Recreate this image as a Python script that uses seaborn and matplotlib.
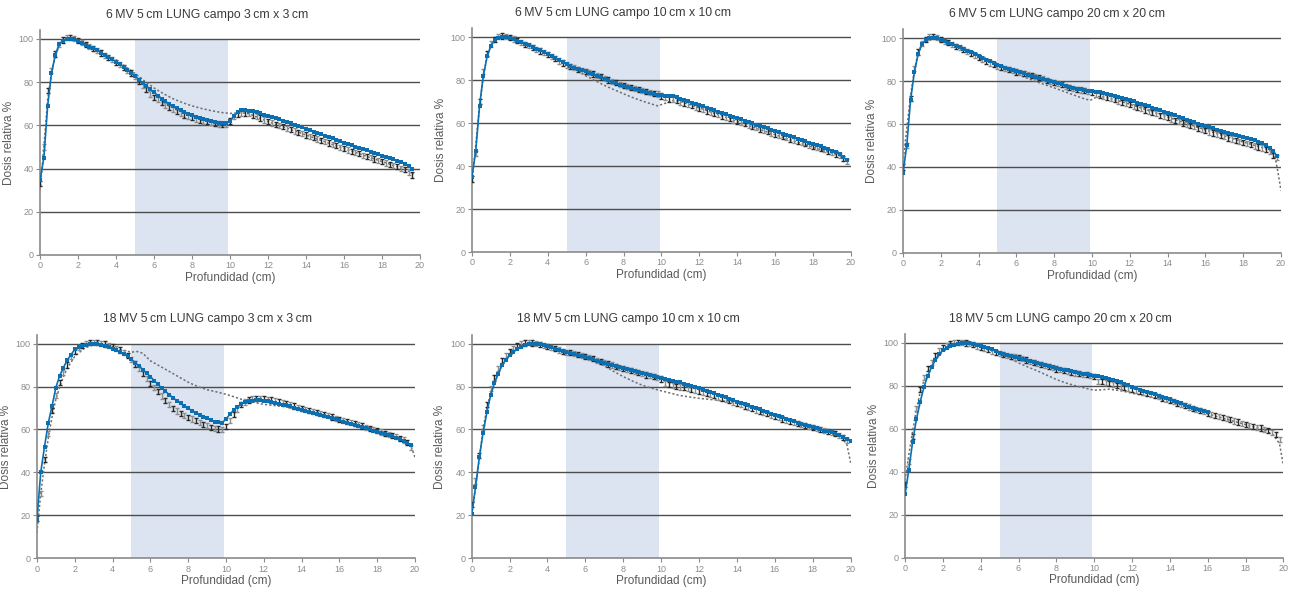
import numpy as np
import matplotlib
matplotlib.use("Agg")
import matplotlib.pyplot as plt
import seaborn as sns

NA = float("nan")

# depth grid (cm) shared by calculated (blue) and measured (error bar) series
depth = [round(0.2 * k, 1) for k in range(101)]

titles = [
    "6\u2009MV 5\u2009cm LUNG campo 3\u2009cm x 3\u2009cm",
    "6\u2009MV 5\u2009cm LUNG campo 10\u2009cm x 10\u2009cm",
    "6\u2009MV 5\u2009cm LUNG campo 20\u2009cm x 20\u2009cm",
    "18\u2009MV 5\u2009cm LUNG campo 3\u2009cm x 3\u2009cm",
    "18\u2009MV 5\u2009cm LUNG campo 10\u2009cm x 10\u2009cm",
    "18\u2009MV 5\u2009cm LUNG campo 20\u2009cm x 20\u2009cm",
]
x_ticks = [0, 2, 4, 6, 8, 10, 12, 14, 16, 18, 20]
y_ticks = [0, 20, 40, 60, 80, 100]
lung_start, lung_end = 5.0, 9.9
MEAS_ERR = 1.2

# ---------------- 6 MV 3x3 ----------------
calc_6_3 = [34.5, 45, 69, 84, 92.5, 97.5, 99.2, 99.8, 100, 99.8,
            98.8, 98, 97.2, 96.4, 95.6, 94.8, 93.7, 92.7, 91.7, 90.6,
            89.5, 88.3, 87.1, 85.8, 84.3, 82.8, 81.2, 79.6, 78.2, 76.7,
            75.3, 73.8, 72.4, 71.1, 69.9, 68.8, 67.8, 66.9, 66.1, 65.3,
            64.6, 64, 63.4, 62.9, 62.4, 62, 61.6, 61.3, 61.1, 61.1,
            62, 64.2, 66, 66.9, 67, 66.8, 66.4, 66, 65.5, 65,
            64.5, 63.9, 63.3, 62.7, 62.1, 61.5, 60.9, 60.2, 59.6, 59,
            58.3, 57.7, 57.1, 56.5, 55.8, 55.2, 54.6, 54, 53.3, 52.7,
            52, 51.4, 50.8, 50.2, 49.6, 49, 48.4, 47.8, 47.2, 46.6,
            46, 45.4, 44.8, 44.2, 43.6, 43, 42.2, 41.2, 39.8, NA, NA]
meas_6_3 = [33, 50, 76, 85.5, 93, 97.5, 99.5, 100.5, 100.8, 100.2,
            99.2, 98.2, 97.3, 96.4, 95.5, 94.5, 93.5, 92.5, 91.4, 90.3,
            89.2, 88, 86.8, 85.5, 84.2, 82.5, 80.5, 78.5, 76.5, 74.5,
            73, 71.8, 70.5, 69.3, 68.3, 67.3, 66.5, 65.6, 64.8, 64.1,
            63.5, 62.9, 62.4, 62, 61.6, 61.2, 60.9, 60.6, 60.4, 60.4,
            62, 64, 65.2, 65.6, 65.6, 65.3, 64.8, 64.2, 63.4, 62.5,
            61.7, 61.1, 60.5, 59.9, 59.3, 58.7, 58.1, 57.4, 56.8, 56.2,
            55.5, 54.9, 54.3, 53.7, 53, 52.4, 51.8, 51.2, 50.5, 49.9,
            49.2, 48.6, 48, 47.4, 46.8, 46.2, 45.6, 45, 44.4, 43.8,
            43.2, 42.6, 42, 41.4, 40.8, 40.2, 39.4, 38.4, 37, NA, NA]
ref_x_6_3 = [0, 0.2, 0.4, 0.6, 0.8, 1.0, 1.3, 1.6, 2, 3,
             4, 5, 5.5, 6, 6.5, 7, 7.5, 8, 8.5, 9,
             9.5, 10, 10.3, 10.6, 11, 12, 13, 14, 15, 16,
             17, 18, 19, 19.5, 19.7]
ref_y_6_3 = [30, 50, 72, 84, 92, 96.5, 99, 100, 99.3, 95.3,
             90.2, 84, 80.5, 77.3, 74.6, 72.3, 70.5, 69, 67.8, 66.8,
             66, 65.5, 65.7, 65.8, 65.3, 61.7, 58.7, 55.5, 52.4, 49.2,
             46.2, 43.2, 40.2, 38.4, 37]

# ---------------- 6 MV 10x10 ----------------
calc_6_10 = [35, 47, 68, 82, 91, 96, 98.5, 99.5, 100, 100,
             99.6, 98.9, 98.2, 97.5, 96.9, 96.2, 95.4, 94.6, 93.8, 93,
             92.2, 91.3, 90.3, 89.3, 88.3, 87.3, 86.5, 85.8, 85.2, 84.6,
             84, 83.4, 82.7, 82, 81.3, 80.6, 79.9, 79.2, 78.5, 77.8,
             77.2, 76.7, 76.2, 75.7, 75.2, 74.8, 74.4, 74, 73.6, 73.2,
             72.9, 72.7, 72.6, 72.4, 71.9, 71.3, 70.7, 70.1, 69.5, 68.9,
             68.3, 67.7, 67.1, 66.5, 65.9, 65.3, 64.7, 64.1, 63.5, 62.9,
             62.3, 61.7, 61.1, 60.5, 59.9, 59.3, 58.7, 58.1, 57.5, 56.9,
             56.3, 55.7, 55.1, 54.5, 53.9, 53.3, 52.7, 52.1, 51.5, 50.9,
             50.3, 49.7, 49.1, 48.5, 47.9, 47.2, 46.4, 45.4, 44.2, 42.6, NA]
meas_6_10 = [34, 46, 70, 84, 92.5, 96.8, 99, 100.2, 100.5, 100.4,
             99.8, 99.1, 98.3, 97.5, 96.7, 95.9, 95.1, 94.3, 93.5, 92.7,
             91.8, 90.9, 89.9, 88.9, 87.9, 87, 86.3, 85.7, 85.1, 84.5,
             84, 83.4, 82.8, 82.1, 81.4, 80.7, 80, 79.3, 78.7, 78.1,
             77.5, 77, 76.5, 76, 75.5, 75, 74.5, 74.1, 73.8, 73.5,
             72.6, 71.8, 71.2, 70.8, 70.3, 69.8, 69.2, 68.6, 68, 67.4,
             66.8, 66.2, 65.6, 65, 64.4, 63.8, 63.2, 62.6, 62, 61.4,
             60.8, 60.2, 59.6, 59, 58.4, 57.8, 57.2, 56.6, 56, 55.4,
             54.9, 54.3, 53.7, 53.2, 52.6, 52, 51.5, 50.9, 50.3, 49.8,
             49.2, 48.6, 48.1, 47.5, 46.9, 46.3, 45.6, 44.8, 43.6, 42, NA]
ref_x_6_10 = [0, 0.2, 0.4, 0.6, 0.8, 1.0, 1.3, 1.7, 2, 3,
              4, 5, 5.5, 6, 6.5, 7, 7.5, 8, 8.5, 9,
              9.5, 9.8, 10.2, 10.6, 11, 12, 13, 14, 15, 16,
              17, 18, 19, 19.5, 19.8]
ref_y_6_10 = [33, 50, 68, 82, 91, 96, 99, 100, 99.6, 96.8,
              92.3, 87.2, 84.6, 82, 79.7, 77.5, 75.5, 73.6, 71.8, 70.2,
              68.8, 68, 69.2, 70.5, 70, 67, 63.9, 60.7, 57.6, 54.6,
              51.6, 48.8, 46, 44.5, 42.5]

# ---------------- 6 MV 20x20 ----------------
calc_6_20 = [37, 50, 71, 84, 92.5, 97, 99, 99.8, 100, 99.8,
             99.1, 98.5, 97.8, 97.1, 96.4, 95.7, 94.9, 94.1, 93.3, 92.5,
             91.6, 90.7, 89.9, 89.1, 88.3, 87.6, 86.9, 86.2, 85.6, 85,
             84.5, 84, 83.5, 83, 82.5, 82, 81.5, 81, 80.5, 80,
             79.5, 79, 78.4, 77.9, 77.4, 76.9, 76.5, 76.1, 75.8, 75.5,
             75.3, 75, 74.7, 74.4, 74.1, 73.7, 73.2, 72.7, 72.2, 71.7,
             71.2, 70.6, 70, 69.4, 68.8, 68.2, 67.6, 67, 66.4, 65.8,
             65.2, 64.6, 64, 63.3, 62.6, 62, 61.4, 60.8, 60.2, 59.6,
             59, 58.5, 58, 57.4, 56.9, 56.4, 55.9, 55.4, 54.9, 54.4,
             53.9, 53.4, 52.9, 52.4, 51.8, 51.1, 50.2, 49, 47.3, 45, NA]
meas_6_20 = [40, 50, 72, 86, 93.5, 97.5, 99.5, 100.5, 100.6, 100.2,
             99.2, 98.5, 97.8, 97, 96.2, 95.4, 94.6, 93.7, 92.8, 91.9,
             91, 90.1, 89.2, 88.4, 87.6, 86.9, 86.3, 85.7, 85.2, 84.7,
             84.2, 83.8, 83.4, 82.9, 82.5, 82, 81.5, 81, 80.4, 79.9,
             79.3, 78.8, 78.2, 77.6, 77.1, 76.6, 76.2, 75.8, 75.5, 75.2,
             74.5, 73.8, 73.3, 72.8, 72.3, 71.8, 71.3, 70.7, 70.1, 69.5,
             68.9, 68.3, 67.7, 67.1, 66.5, 65.9, 65.3, 64.7, 64.1, 63.5,
             62.9, 62.3, 61.7, 61.1, 60.5, 59.9, 59.3, 58.7, 58.1, 57.5,
             56.9, 56.3, 55.8, 55.2, 54.6, 54.1, 53.5, 53, 52.4, 51.9,
             51.3, 50.8, 50.3, 49.8, 49.3, 48.8, 48.2, 47.3, 45.5, 44.5, NA]
ref_x_6_20 = [0, 0.2, 0.4, 0.6, 0.8, 1.0, 1.3, 1.7, 2, 3,
              4, 5, 5.5, 6, 6.5, 7, 7.5, 8, 8.5, 9,
              9.5, 9.9, 10.3, 10.7, 11, 12, 13, 14, 15, 16,
              17, 18, 19, 19.5, 19.7, 19.85, 20]
ref_y_6_20 = [42, 58, 73, 85, 93, 97.5, 99.6, 100, 99.6, 96.4,
              92.5, 87.8, 85.4, 83.3, 81.5, 79.8, 78.3, 76.8, 75.2, 73.6,
              72, 71, 72.8, 72.5, 71.8, 69.2, 66.2, 63.2, 60.2, 57.2,
              54.4, 51.6, 49, 47.3, 44, 37, 29]

# ---------------- 18 MV 3x3 ----------------
calc_18_3 = [18, 40, 52, 63, 71, 79.5, 85, 88.8, 92.3, 94.8,
             97.3, 98.3, 99, 99.5, 99.8, 99.9, 99.8, 99.4, 98.9, 98.3,
             97.6, 96.9, 96.1, 95.2, 94, 92.6, 91.1, 89.5, 87.9, 86.3,
             84.6, 82.8, 81, 79.3, 77.7, 76.2, 74.8, 73.4, 72.1, 70.9,
             69.8, 68.8, 67.8, 66.9, 66, 65.2, 64.4, 63.7, 63.3, 63.2,
             64.8, 67, 69, 70.6, 71.8, 72.6, 73.1, 73.4, 73.6, 73.6,
             73.4, 73.1, 72.8, 72.4, 72, 71.6, 71.2, 70.7, 70.2, 69.7,
             69.2, 68.7, 68.2, 67.7, 67.2, 66.7, 66.2, 65.7, 65.2, 64.7,
             64.2, 63.7, 63.2, 62.7, 62.2, 61.7, 61.1, 60.5, 60, 59.4,
             58.9, 58.3, 57.8, 57.3, 56.8, 56.2, 55.5, 54.7, 53.8, 52.6, NA]
meas_18_3 = [18.5, 30, 46, 58, 69, 76, 82, 86.5, 90, 94,
             96.5, 98, 99.3, 100.2, 100.5, 100.5, 100.4, 100.2, 99.8, 99.3,
             98.6, 97.8, 97, 96, 94.5, 92.5, 90.5, 88.3, 86, 83.8,
             81.6, 79.5, 77.6, 75.6, 73.6, 71.6, 69.9, 68.6, 67.5, 66.5,
             65.7, 64.9, 64.1, 63.3, 62.5, 61.7, 61.1, 60.6, 60.2, 60,
             61.5, 64, 67, 69.5, 71.5, 72.8, 73.7, 74.3, 74.6, 74.6,
             74.4, 74.1, 73.7, 73.3, 72.9, 72.4, 71.9, 71.4, 70.9, 70.4,
             69.9, 69.4, 68.9, 68.4, 67.9, 67.4, 66.9, 66.4, 65.8, 65.2,
             64.7, 64.2, 63.7, 63.2, 62.7, 62.2, 61.6, 61, 60.5, 59.9,
             59.4, 58.8, 58.3, 57.8, 57.2, 56.6, 55.9, 55.1, 54, 51.8, NA]
ref_x_18_3 = [0, 0.2, 0.4, 0.6, 0.8, 1.0, 1.3, 1.6, 2, 2.5,
              3, 3.5, 4, 4.5, 5, 5.3, 5.6, 6, 6.5, 7,
              7.5, 8, 8.5, 9, 9.5, 10, 10.5, 11, 12, 13,
              14, 15, 16, 17, 18, 19, 19.5, 19.8, 20]
ref_y_18_3 = [12, 30, 44, 56, 66, 74, 82.5, 88.5, 94, 97.8,
              99.5, 99.6, 98.5, 97, 96, 96.3, 95.5, 92, 89.5, 87,
              84.5, 82, 80, 78.5, 77.5, 76.4, 75, 73.5, 71.7, 70.7,
              69.5, 67, 64.5, 62, 59.5, 56.5, 54.5, 52, 47]

# ---------------- 18 MV 10x10 ----------------
calc_18_10 = [20.5, 33, 47, 58.5, 68, 76, 81.5, 86, 89.8, 92.5,
              94.6, 96.2, 97.6, 98.6, 99.3, 99.7, 99.9, 100, 99.8, 99.3,
              98.7, 98.2, 97.7, 97.2, 96.6, 96, 95.6, 95.2, 94.8, 94.3,
              93.9, 93.3, 92.7, 92.1, 91.5, 91, 90.5, 90, 89.5, 89,
              88.5, 88, 87.5, 87, 86.6, 86.2, 85.7, 85.2, 84.7, 84.3,
              83.9, 83.5, 83.1, 82.7, 82.3, 82, 81.4, 80.8, 80.2, 79.7,
              79.2, 78.6, 78, 77.4, 76.8, 76.1, 75.5, 74.9, 74.3, 73.6,
              73, 72.4, 71.8, 71.2, 70.6, 69.9, 69.3, 68.7, 68.1, 67.4,
              66.8, 66.2, 65.6, 65, 64.4, 63.8, 63.2, 62.6, 62.1, 61.5,
              61, 60.5, 60, 59.5, 59.1, 58.7, 58.1, 57.4, 56.5, 55.5, 54.5]
meas_18_10 = [25, 36, 48, 61, 71.5, 79, 84, 88.5, 92, 94.5,
              96.3, 97.8, 99, 99.8, 100.3, 100.4, 100.3, 100, 99.7, 99.3,
              98.8, 98.2, 97.6, 97, 96.5, 96, 95.8, 95.5, 95.1, 94.6,
              94.1, 93.5, 92.9, 92.3, 91.7, 91.1, 90.5, 90, 89.4, 88.9,
              88.4, 87.9, 87.4, 86.9, 86.4, 85.9, 85.4, 85, 84.6, 84.2,
              83.5, 81.5, 81, 80.6, 80.2, 79.8, 79.4, 79, 78.6, 78.2,
              77.8, 77.3, 76.8, 76.3, 75.7, 75.1, 74.5, 73.9, 73.3, 72.7,
              72.1, 71.5, 70.9, 70.3, 69.7, 69.1, 68.5, 67.9, 67.3, 66.7,
              66.1, 65.5, 64.9, 64.3, 63.8, 63.3, 62.8, 62.3, 61.8, 61.3,
              60.8, 60.3, 59.9, 59.5, 59.1, 58.7, 58.1, 57.3, 56.3, 55, NA]
ref_x_18_10 = [0, 0.2, 0.4, 0.6, 0.8, 1.0, 1.3, 1.6, 2, 2.5,
               3, 3.5, 4, 4.5, 5, 5.5, 6, 6.5, 7, 7.5,
               8, 8.5, 9, 9.5, 10, 11, 12, 13, 14, 15,
               16, 17, 18, 19, 19.5, 19.8, 20]
ref_y_18_10 = [20, 33, 46, 60, 70, 77, 84.5, 90, 94.5, 98,
               99.8, 100, 98.7, 97.5, 96.3, 95, 93.5, 91.8, 89.6, 87,
               84.6, 82.5, 80.6, 79.2, 78, 75.8, 74.5, 73.6, 72.2, 69.6,
               66.5, 63.5, 61, 58.5, 56.5, 53, 44.5]

# ---------------- 18 MV 20x20 ----------------
calc_18_20 = [29.5, 41, 54, 64.5, 72.5, 79.5, 84.7, 88.7, 92, 94.8,
              96.5, 97.7, 98.6, 99.2, 99.6, 99.8, 100, 99.8, 99.5, 99.1,
              98.6, 98, 97.5, 97, 96.3, 95.5, 95, 94.6, 94.1, 93.6,
              93.2, 92.7, 92.3, 91.8, 91.3, 90.9, 90.4, 89.9, 89.4, 88.9,
              88.4, 88, 87.6, 87.2, 86.8, 86.5, 86.1, 85.7, 85.4, 85.1,
              84.8, 84.4, 84, 83.6, 83.2, 82.8, 82.2, 81.6, 80.9, 80.2,
              79.5, 78.9, 78.3, 77.8, 77.2, 76.7, 76.1, 75.5, 74.9, 74.4,
              73.9, 73.2, 72.6, 71.9, 71.1, 70.4, 69.8, 69.3, 68.7, 68.2,
              67.8, NA, NA, NA, NA, NA, NA, NA, NA, NA,
              NA, NA, NA, NA, NA, NA, NA, NA, NA, NA, NA]
meas_18_20 = [34, 45, 56.5, 69.5, 78.5, 84, 88, 91, 94, 96.5,
              98, 99, 99.7, 100.3, 100.4, 100.3, 100, 99.6, 99.1, 98.6,
              98, 97.4, 96.8, 96.2, 95.6, 95, 94.6, 94.2, 93.8, 93.5,
              93.2, 92.7, 92.1, 91.5, 90.9, 90.4, 89.9, 89.4, 88.9, 88.4,
              87.9, 87.5, 87.1, 86.7, 86.3, 86, 85.7, 85.4, 85.2, 85,
              84.5, 82.2, 82, 81.6, 81.1, 80.6, 80.2, 79.8, 79.4, 78.9,
              78.4, 77.9, 77.4, 76.9, 76.4, 75.9, 75.4, 74.9, 74.3, 73.8,
              73.2, 72.6, 72, 71.4, 70.8, 70.2, 69.6, 69, 68.5, 67.9,
              67.3, 66.7, 66.2, 65.7, 65.2, 64.7, 64.2, 63.7, 63.2, 62.7,
              62.2, 61.7, 61.2, 60.8, 60.4, 59.9, 59.3, 58.5, 57.2, 55, NA]
ref_x_18_20 = [0, 0.2, 0.4, 0.6, 0.8, 1.0, 1.3, 1.6, 2, 2.5,
               3, 3.5, 4, 4.5, 5, 5.5, 6, 6.5, 7, 7.5,
               8, 8.5, 9, 9.5, 10, 10.4, 10.8, 11.5, 12, 13,
               14, 15, 16, 17, 18, 19, 19.5, 19.8, 20]
ref_y_18_20 = [36, 48, 59, 69, 77, 82.5, 88, 92, 96, 98.8,
               100, 99.5, 98, 96.5, 95, 93, 90.7, 88.8, 87, 85,
               83, 81.4, 80.1, 79, 78, 78.2, 78.5, 77.6, 76.6, 74.8,
               72.5, 70, 67, 64.5, 62, 59.5, 57, 53, 43]

panels = [
    (calc_6_3, meas_6_3, ref_x_6_3, ref_y_6_3),
    (calc_6_10, meas_6_10, ref_x_6_10, ref_y_6_10),
    (calc_6_20, meas_6_20, ref_x_6_20, ref_y_6_20),
    (calc_18_3, meas_18_3, ref_x_18_3, ref_y_18_3),
    (calc_18_10, meas_18_10, ref_x_18_10, ref_y_18_10),
    (calc_18_20, meas_18_20, ref_x_18_20, ref_y_18_20),
]

# axes rectangles in figure fraction (left, bottom, width, height)
rects = [
    (0.0310, 0.5700, 0.2941, 0.3790),
    (0.3653, 0.5750, 0.2933, 0.3770),
    (0.6989, 0.5734, 0.2926, 0.3770),
    (0.0286, 0.0585, 0.2926, 0.3766),
    (0.3651, 0.0585, 0.2933, 0.3766),
    (0.7005, 0.0595, 0.2928, 0.3766),
]
# horizontal centre of each title, in axes fraction
title_x = [0.44, 0.40, 0.407, 0.45, 0.413, 0.41]

sns.set_theme(style="white")
plt.rcParams["font.family"] = ["Liberation Sans", "DejaVu Sans"]

BLUE = "#0b6fb1"
SHADE = "#dbe4f0"
GRID = "#4d4d4d"
SPINE = "#8a8a8a"
TICKC = "#8c8c8c"
YTOP = 104

fig = plt.figure(figsize=(12.92, 5.93), dpi=100)
xs = np.array(depth)

for (calc, meas, rx, ry), rect, title, tx in zip(panels, rects, titles, title_x):
    ax = fig.add_axes(rect)
    ax.set_xlim(0, 20)
    ax.set_ylim(0, YTOP)
    ax.axvspan(lung_start, lung_end, ymin=0, ymax=100 / YTOP,
               color=SHADE, zorder=0.5, lw=0)
    for yv in y_ticks[1:]:
        ax.axhline(yv, color=GRID, lw=1.0, zorder=1)

    # reference calculation (dotted)
    sns.lineplot(x=rx, y=ry, ax=ax, color="#6e6e6e", lw=1.1,
                 linestyle=(0, (1.4, 1.4)), estimator=None, sort=False,
                 zorder=2)

    # measurements with error bars (alternating dark / grey)
    m = np.array(meas, dtype=float)
    ok = ~np.isnan(m)
    idx = np.arange(len(m))
    for sel, col in ((ok & (idx % 2 == 0), "#2a2a2a"), (ok & (idx % 2 == 1), "#8d8d8d")):
        ax.errorbar(xs[sel], m[sel], yerr=MEAS_ERR, fmt="none", ecolor=col,
                    elinewidth=1.0, capsize=1.6, capthick=1.0, zorder=3)

    # calculated (blue, square markers)
    c = np.array(calc, dtype=float)
    okc = ~np.isnan(c)
    sns.lineplot(x=xs[okc], y=c[okc], ax=ax, color=BLUE, lw=1.2,
                 marker="s", markersize=3.2, markeredgewidth=0,
                 estimator=None, sort=False, zorder=4)

    ax.set_xticks(x_ticks)
    ax.set_yticks(y_ticks)
    ax.tick_params(axis="both", which="both", direction="out", length=3,
                   width=0.8, color=SPINE, labelcolor=TICKC, labelsize=6.5,
                   pad=1.5, left=True, bottom=True)
    for side in ("top", "right"):
        ax.spines[side].set_visible(False)
    for side in ("left", "bottom"):
        ax.spines[side].set_color(SPINE)
        ax.spines[side].set_linewidth(1.2)
    ax.set_xlabel("Profundidad (cm)", fontsize=8.5, color="#5a5a5a", labelpad=1)
    ax.set_ylabel("Dosis relativa %", fontsize=8.5, color="#5a5a5a", labelpad=3)
    ax.set_title(title, fontsize=8.8, color="#3a3a3a", pad=9, x=tx)

fig.savefig("out.png", dpi=100)
